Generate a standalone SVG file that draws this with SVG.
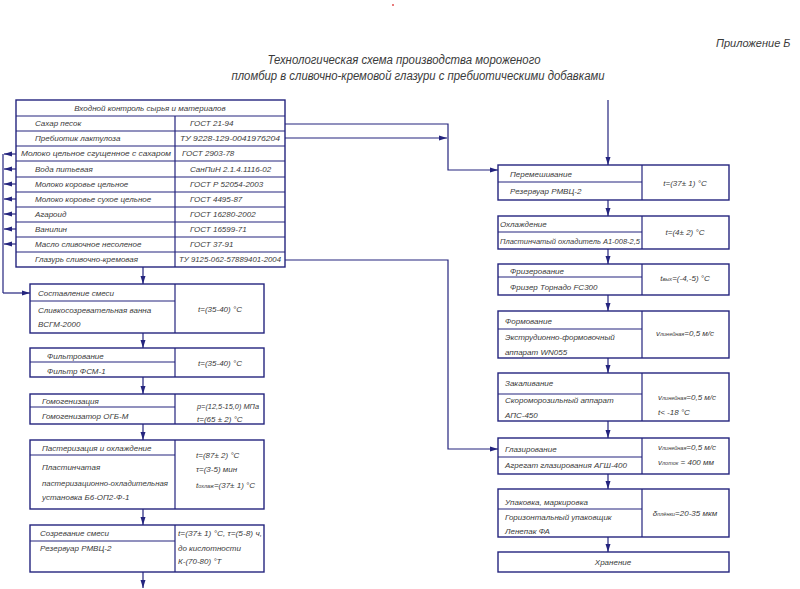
<svg xmlns="http://www.w3.org/2000/svg" width="800" height="589" viewBox="0 0 800 589">
<defs>
<style>
.b{fill:#fff;stroke:#24247e;stroke-width:1.4}
.d{stroke:#24247e;stroke-width:1.2;fill:none}
.l{stroke:#24247e;stroke-width:1.2;fill:none}
.a{marker-end:url(#ar)}
text{font-family:"Liberation Sans Narrow","Liberation Sans",Arial,sans-serif;font-style:italic;font-size:8px;fill:#3a3a3a}
.c{text-anchor:middle}
.tt{font-size:12.5px}
</style>
<marker id="ar" viewBox="0 0 8 6" refX="8" refY="3" markerWidth="8" markerHeight="6" markerUnits="userSpaceOnUse" orient="auto">
<path d="M0,0.5 L8,3 L0,5.5 Z" fill="#24247e"/>
</marker>
</defs>
<rect width="800" height="589" fill="#fff"/>
<circle cx="393" cy="5" r="1" fill="#e05050"/>
<text x="716" y="47" style="font-size:11px">Приложение Б</text>
<text x="404" y="64" class="tt c" textLength="273" lengthAdjust="spacingAndGlyphs">Технологическая схема производства мороженого</text>
<text x="418" y="80" class="tt c" textLength="373" lengthAdjust="spacingAndGlyphs">пломбир в сливочно-кремовой глазури с пребиотическими добавками</text>

<g id="table">
<rect class="b" x="16" y="100" width="269" height="167"/>
<path class="d" d="M16,116H285M16,131H285M16,146H285M16,161H285M16,177H285M16,192H285M16,207H285M16,222H285M16,237H285M16,252H285M175,116V267"/>
<text x="150" y="111" class="c">Входной контроль сырья и материалов</text>
<text x="35" y="126">Сахар песок</text><text x="190" y="126">ГОСТ 21-94</text>
<text x="35" y="141">Пребиотик лактулоза</text><text x="180" y="141" textLength="100" lengthAdjust="spacingAndGlyphs">ТУ 9228-129-0041976204</text>
<text x="21" y="156" textLength="150" lengthAdjust="spacingAndGlyphs">Молоко цельное сгущенное с сахаром</text><text x="182" y="156">ГОСТ 2903-78</text>
<text x="35" y="172">Вода питьевая</text><text x="190" y="172">СанПиН 2.1.4.1116-02</text>
<text x="35" y="187">Молоко коровье цельное</text><text x="190" y="187">ГОСТ Р 52054-2003</text>
<text x="35" y="202">Молоко коровье сухое цельное</text><text x="190" y="202">ГОСТ 4495-87</text>
<text x="35" y="217">Агароид</text><text x="190" y="217">ГОСТ 16280-2002</text>
<text x="35" y="232">Ванилин</text><text x="190" y="232">ГОСТ 16599-71</text>
<text x="35" y="247">Масло сливочное несоленое</text><text x="190" y="247">ГОСТ 37-91</text>
<text x="35" y="262">Глазурь сливочно-кремовая</text><text x="179" y="262" textLength="102" lengthAdjust="spacingAndGlyphs">ТУ 9125-062-57889401-2004</text>
</g>

<g id="n1">
<rect class="b" x="30" y="284" width="234" height="49"/>
<path class="d" d="M30,301H175M175,284V333"/>
<text x="38" y="296">Составление смеси</text>
<text x="38" y="313">Сливкосозревательная ванна</text>
<text x="38" y="327">ВСГМ-2000</text>
<text x="220" y="312" class="c">t=(35-40) °C</text>
</g>
<g id="n2">
<rect class="b" x="30" y="348" width="234" height="29"/>
<path class="d" d="M30,362H175M175,348V377"/>
<text x="47" y="359">Фильтрование</text>
<text x="47" y="374">Фильтр ФСМ-1</text>
<text x="220" y="366" class="c">t=(35-40) °C</text>
</g>
<g id="n3">
<rect class="b" x="30" y="394" width="234" height="30"/>
<path class="d" d="M30,407H175M175,394V424"/>
<text x="42" y="404">Гомогенизация</text>
<text x="42" y="419">Гомогенизатор ОГБ-М</text>
<text x="197" y="409" textLength="62" lengthAdjust="spacingAndGlyphs">p=(12,5-15,0) МПа</text>
<text x="197" y="422">t=(65 ± 2) °C</text>
</g>
<g id="n4">
<rect class="b" x="30" y="440" width="234" height="69"/>
<path class="d" d="M30,455H175M175,440V509"/>
<text x="42" y="451">Пастеризация и охлаждение</text>
<text x="42" y="470">Пластинчатая</text>
<text x="42" y="486" textLength="126" lengthAdjust="spacingAndGlyphs">пастеризационно-охладительная</text>
<text x="42" y="500">установка Б6-ОП2-Ф-1</text>
<text x="196" y="458">t=(87± 2) °C</text>
<text x="196" y="472">τ=(3-5) мин</text>
<text x="196" y="488">t<tspan font-size="5.5px">охлаж</tspan>=(37± 1) °C</text>
</g>
<g id="n5">
<rect class="b" x="30" y="525" width="234" height="47"/>
<path class="d" d="M30,541H175M175,525V572"/>
<text x="40" y="536">Созревание смеси</text>
<text x="40" y="551">Резервуар РМВЦ-2</text>
<text x="178" y="536" textLength="84" lengthAdjust="spacingAndGlyphs">t=(37± 1) °C, τ=(5-8) ч,</text>
<text x="178" y="551">до кислотности</text>
<text x="178" y="564">К-(70-80) °Т</text>
</g>

<g id="r1">
<rect class="b" x="498" y="165" width="231" height="35"/>
<path class="d" d="M498,182H642M642,165V200"/>
<text x="510" y="177">Перемешивание</text>
<text x="510" y="194">Резервуар РМВЦ-2</text>
<text x="685" y="186" class="c">t=(37± 1) °C</text>
</g>
<g id="r2">
<rect class="b" x="498" y="216" width="231" height="33"/>
<path class="d" d="M498,232H642M642,216V249"/>
<text x="500" y="227">Охлаждение</text>
<text x="500" y="244" textLength="140" lengthAdjust="spacingAndGlyphs">Пластинчатый охладитель А1-008-2,5</text>
<text x="685" y="235" class="c">t=(4± 2) °C</text>
</g>
<g id="r3">
<rect class="b" x="498" y="264" width="231" height="31"/>
<path class="d" d="M498,277H642M642,264V295"/>
<text x="510" y="274">Фризерование</text>
<text x="510" y="290">Фризер Торнадо FC300</text>
<text x="685" y="281" class="c">t<tspan font-size="5.5px">вых</tspan>=(-4,-5) °C</text>
</g>
<g id="r4">
<rect class="b" x="498" y="311" width="231" height="47"/>
<path class="d" d="M498,329H642M642,311V358"/>
<text x="505" y="324">Формование</text>
<text x="505" y="340">Экструдионно-формовочный</text>
<text x="505" y="355">аппарат WN055</text>
<text x="685" y="336" class="c">v<tspan font-size="5.5px">линейная</tspan>=0,5 м/с</text>
</g>
<g id="r5">
<rect class="b" x="498" y="373" width="231" height="48"/>
<path class="d" d="M498,394H642M642,373V421"/>
<text x="505" y="386">Закаливание</text>
<text x="505" y="403">Скороморозильный аппарат</text>
<text x="505" y="418">АПС-450</text>
<text x="658" y="400">v<tspan font-size="5.5px">линейная</tspan>=0,5 м/с</text>
<text x="658" y="415">t&lt; -18 °C</text>
</g>
<g id="r6">
<rect class="b" x="498" y="438" width="231" height="36"/>
<path class="d" d="M498,457H642M642,438V474"/>
<text x="505" y="452">Глазирование</text>
<text x="505" y="468">Агрегат глазирования АГШ-400</text>
<text x="658" y="450">v<tspan font-size="5.5px">линейная</tspan>=0,5 м/с</text>
<text x="658" y="465">v<tspan font-size="5.5px">лоток</tspan> = 400 мм</text>
</g>
<g id="r7">
<rect class="b" x="498" y="489" width="231" height="48"/>
<path class="d" d="M498,509H642M642,489V537"/>
<text x="505" y="505">Упаковка, маркировка</text>
<text x="505" y="520">Горизонтальный упаковщик</text>
<text x="505" y="534">Ленепак ФА</text>
<text x="685" y="516" class="c">δ<tspan font-size="5.5px">плёнки</tspan>=20-35 мкм</text>
</g>
<g id="r8">
<rect class="b" x="498" y="552" width="231" height="20"/>
<text x="613" y="565" class="c">Хранение</text>
</g>

<g id="connectors">
<path class="l" d="M3,154V293"/>
<path class="l a" d="M3,293H30"/>
<path class="l a" d="M16,154H4"/>
<path class="l a" d="M16,169H4"/>
<path class="l a" d="M16,184H4"/>
<path class="l a" d="M16,199H4"/>
<path class="l a" d="M16,214H4"/>
<path class="l a" d="M16,229H4"/>
<path class="l a" d="M16,244H4"/>
<path class="l a" d="M143,267V284"/>
<path class="l a" d="M143,333V348"/>
<path class="l a" d="M143,377V394"/>
<path class="l a" d="M143,424V440"/>
<path class="l a" d="M143,509V525"/>
<path class="l a" d="M143,572V588"/>
<path class="l a" d="M285,124H448V170H498"/>
<path class="l a" d="M285,138H447"/>
<path class="l a" d="M285,260H448V449H498"/>
<path class="l a" d="M608,100V165"/>
<path class="l a" d="M608,200V216"/>
<path class="l a" d="M608,249V264"/>
<path class="l a" d="M608,295V311"/>
<path class="l a" d="M608,358V373"/>
<path class="l a" d="M608,421V438"/>
<path class="l a" d="M608,474V489"/>
<path class="l a" d="M608,537V552"/>
</g>
</svg>
